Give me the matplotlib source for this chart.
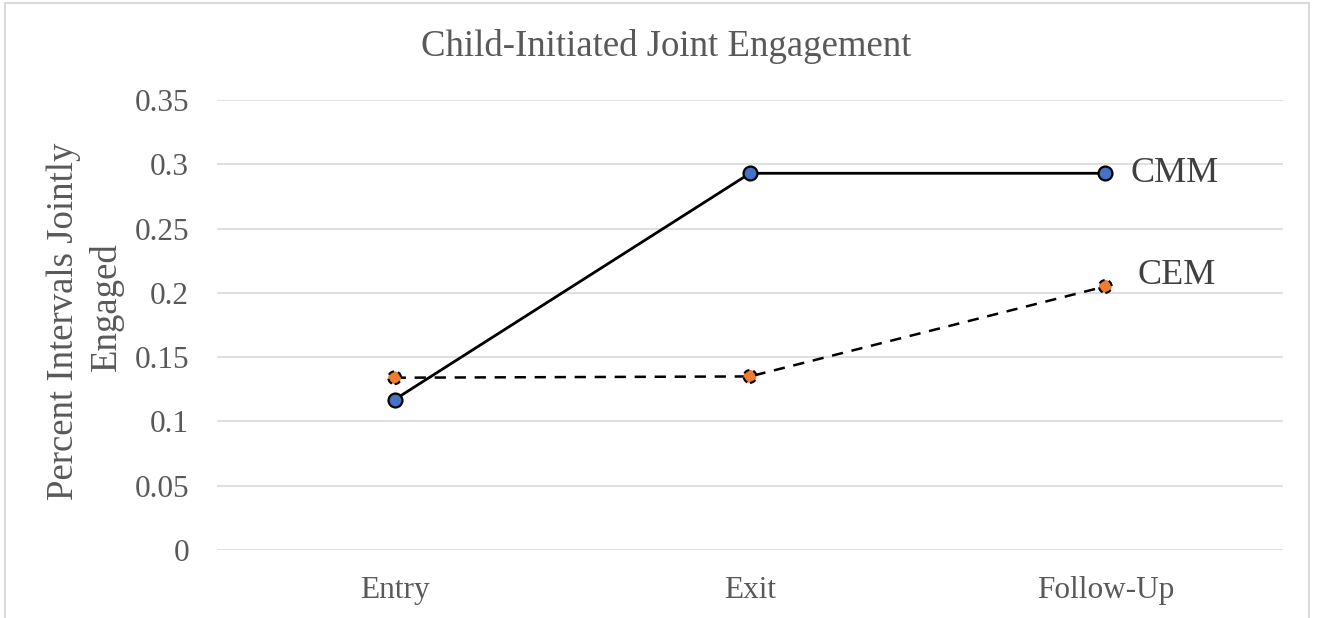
import matplotlib
matplotlib.use("Agg")
import matplotlib.pyplot as plt
from matplotlib.patches import Rectangle

# Data
phases = ["Entry", "Exit", "Follow-Up"]
cmm = [0.117, 0.293, 0.293]
cem = [0.134, 0.135, 0.205]
y_ticks = [0, 0.05, 0.1, 0.15, 0.2, 0.25, 0.3, 0.35]
y_tick_labels = ["0", "0.05", "0.1", "0.15", "0.2", "0.25", "0.3", "0.35"]
y_title_lines = ["Percent Intervals Jointly", "Engaged"]

SERIF = ["Liberation Serif", "DejaVu Serif"]
TXT = "#595959"
W, H = 1317, 618

fig = plt.figure(figsize=(W / 100, H / 100), dpi=100)
fig.patch.set_facecolor("white")

# chart-area frame
fig.patches.append(Rectangle((5 / W, -0.1), (1309 - 5) / W, 1.1 - 3 / H,
                             transform=fig.transFigure, fill=False,
                             edgecolor="#D9D9D9", linewidth=1.5))

ax = fig.add_axes([217 / W, (H - 550) / H, (1283 - 217) / W, 450 / H])
x = list(range(len(phases)))
ax.set_xlim(-0.5, len(phases) - 0.5)
ax.set_ylim(0, 0.35)

ax.set_yticks(y_ticks)
ax.set_yticklabels(y_tick_labels)
ax.set_xticks(x)
ax.set_xticklabels(phases)
ax.grid(axis="y", color="#D9D9D9", linewidth=1.2)
ax.set_axisbelow(True)
for s in ax.spines.values():
    s.set_visible(False)
ax.tick_params(axis="both", length=0, labelsize=22.5, labelcolor=TXT)
ax.tick_params(axis="y", pad=20)
ax.tick_params(axis="x", pad=19)
for lab in ax.get_xticklabels() + ax.get_yticklabels():
    lab.set_family(SERIF)

# CMM: solid line with blue markers
ax.plot(x, cmm, color="black", linewidth=2.0, zorder=3)
ax.plot(x, cmm, linestyle="none", marker="o", markersize=10,
        markerfacecolor="#4472C4", markeredgecolor="black",
        markeredgewidth=1.6, zorder=4)

# CEM: dashed line with orange markers
ax.plot(x, cem, color="black", linewidth=1.8, dashes=(4.5, 3.5), zorder=3)
ax.scatter(x, cem, s=85, facecolor="#ED7D31", edgecolor="black",
           linewidths=1.5, linestyles=(0, (3, 2)), zorder=4)

ax.annotate("CMM", xy=(x[-1], cmm[-1]), xytext=(18, 0),
            textcoords="offset points", ha="left", va="center",
            fontsize=26, color="#404040", family=SERIF)
ax.annotate("CEM", xy=(x[-1], cem[-1]), xytext=(23, 8),
            textcoords="offset points", ha="left", va="center",
            fontsize=26, color="#404040", family=SERIF)

# two-line vertical axis title
fig.text(64 / W, 1 - 321 / H, y_title_lines[0], rotation=90,
         ha="center", va="center", fontsize=26.5, color=TXT, family=SERIF)
fig.text(106 / W, 1 - 307 / H, y_title_lines[1], rotation=90,
         ha="center", va="center", fontsize=26.5, color=TXT, family=SERIF)

fig.text(0.5 + 8 / W, 1 - 46 / H, "Child-Initiated Joint Engagement",
         ha="center", va="center", fontsize=26.5, color=TXT, family=SERIF)

fig.savefig("out.png", dpi=100, facecolor="white")
